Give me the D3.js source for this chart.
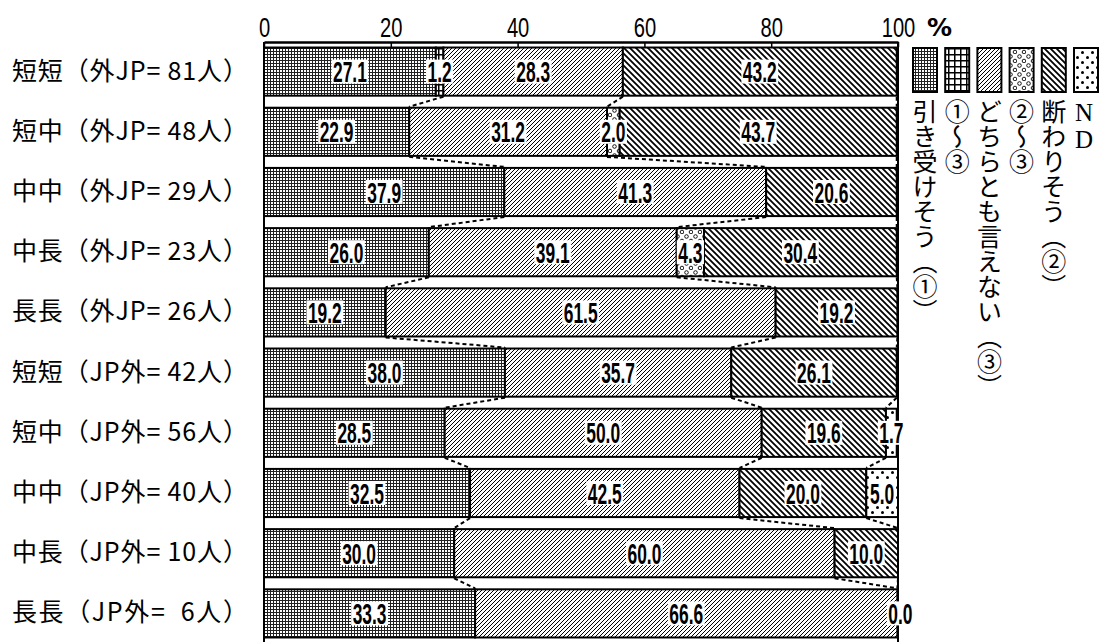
<!DOCTYPE html>
<html>
<head>
<meta charset="utf-8">
<script src="https://cdn.jsdelivr.net/npm/d3@7"></script>
<style>
  body { margin: 0; background: #fff; }
</style>
</head>
<body>
<svg id="chart" width="1099" height="642"></svg>
<script>
// rows of the chart (top to bottom)
const rows = [
  '短短（外JP= 81人）',
  '短中（外JP= 48人）',
  '中中（外JP= 29人）',
  '中長（外JP= 23人）',
  '長長（外JP= 26人）',
  '短短（JP外= 42人）',
  '短中（JP外= 56人）',
  '中中（JP外= 40人）',
  '中長（JP外= 10人）',
  '長長（JP外=  6人）'
];
const seriesNames = ['引き受けそう（①）', '①～③', 'どちらとも言えない（③）', '②～③', '断わりそう（②）', 'ND'];
// values in %, null = no segment
const hikiuke = [27.1, 22.9, 37.9, 26.0, 19.2, 38.0, 28.5, 32.5, 30.0, 33.3];
const kara13 = [1.2, null, null, null, null, null, null, null, null, null];
const dochira = [28.3, 31.2, 41.3, 39.1, 61.5, 35.7, 50.0, 42.5, 60.0, 66.6];
const kara23 = [null, 2.0, null, 4.3, null, null, null, null, null, null];
const kotowari = [43.2, 43.7, 20.6, 30.4, 19.2, 26.1, 19.6, 20.0, 10.0, 0.0];
const nd = [null, null, null, null, null, null, 1.7, 5.0, null, null];
const tickValues = [0, 20, 40, 60, 80, 100];

const series = [hikiuke, kara13, dochira, kara23, kotowari, nd];
const patternIds = ['p-hiki', 'p-k13', 'p-doc', 'p-k23', 'p-kot', 'p-nd'];

const svg = d3.select('#chart');
const defs = svg.append('defs');

// fill patterns
function pattern(id, w, h) {
  return defs.append('pattern').attr('id', id)
    .attr('patternUnits', 'userSpaceOnUse')
    .attr('width', w).attr('height', h);
}
// fine grid
let p = pattern('p-hiki', 3, 3);
p.append('rect').attr('width', 3).attr('height', 3).attr('fill', '#fff');
p.append('path').attr('d', 'M0,0.5H3M0.5,0V3').attr('stroke', '#222').attr('stroke-width', 1);
// coarse grid
p = pattern('p-k13', 6, 6);
p.append('rect').attr('width', 6).attr('height', 6).attr('fill', '#fff');
p.append('path').attr('d', 'M0,0.75H6M0.75,0V6').attr('stroke', '#000').attr('stroke-width', 1.5);
// "/" hatch
p = pattern('p-doc', 4, 4);
p.append('rect').attr('width', 4).attr('height', 4).attr('fill', '#fff');
p.append('path').attr('d', 'M0,4L4,0M-1,1L1,-1M3,5L5,3').attr('stroke', '#000').attr('stroke-width', 1);
// circles
p = pattern('p-k23', 9, 9);
p.append('rect').attr('width', 9).attr('height', 9).attr('fill', '#fff');
p.append('circle').attr('cx', 2.5).attr('cy', 2.5).attr('r', 1.8).attr('fill', 'none').attr('stroke', '#000').attr('stroke-width', 0.9);
p.append('circle').attr('cx', 7).attr('cy', 7).attr('r', 1.8).attr('fill', 'none').attr('stroke', '#000').attr('stroke-width', 0.9);
// "\" hatch
p = pattern('p-kot', 6, 6);
p.append('rect').attr('width', 6).attr('height', 6).attr('fill', '#fff');
p.append('path').attr('d', 'M0,0L6,6M-1,5L1,7M5,-1L7,1').attr('stroke', '#000').attr('stroke-width', 1.8);
// sparse dots
p = pattern('p-nd', 10, 10);
p.append('rect').attr('width', 10).attr('height', 10).attr('fill', '#fff');
p.append('circle').attr('cx', 2.5).attr('cy', 2.5).attr('r', 1.5).attr('fill', '#000');
p.append('circle').attr('cx', 7.5).attr('cy', 7.5).attr('r', 1.5).attr('fill', '#000');

// scales
const x = d3.scaleLinear().domain([0, 100]).range([264, 898]);
const y = d3.scaleBand().domain(rows).range([41.5, 643.5]).paddingInner(0.2).paddingOuter(0.1);

// stacked segments
const stacked = rows.map((r, i) => {
  let cum = 0;
  const segs = series.map((s, k) => {
    const v = s[i];
    const x0 = cum;
    cum += v || 0;
    return { row: r, k: k, v: v, x0: x0, x1: cum };
  });
  return { row: r, segs: segs };
});

// frame lines
svg.append('line').attr('x1', x(0)).attr('x2', x(0)).attr('y1', 42).attr('y2', 650)
  .attr('stroke', '#000').attr('stroke-width', 2);
svg.append('line').attr('x1', x(100)).attr('x2', x(100)).attr('y1', 42).attr('y2', 650)
  .attr('stroke', '#000').attr('stroke-width', 2);

// top axis
const axis = svg.append('g')
  .attr('transform', 'translate(0,42)')
  .call(d3.axisTop(x).tickValues(tickValues).tickSizeInner(-5).tickSizeOuter(0).tickPadding(6));
axis.select('.domain').attr('stroke-width', 2.5);
axis.selectAll('.tick line').attr('stroke-width', 1.5);
axis.selectAll('.tick text')
  .attr('y', -5)
  .attr('font-family', 'Liberation Sans, Arial, sans-serif')
  .attr('font-size', 28)
  .attr('transform', 'scale(0.72,1)'); // narrow digits like the original
svg.append('text').attr('x', 927).attr('y', 36)
  .attr('font-family', 'DejaVu Sans, sans-serif').attr('font-weight', 'bold')
  .attr('font-size', 25).text('%');

// bars
const bars = svg.append('g');
stacked.forEach(st => {
  bars.selectAll(null)
    .data(st.segs.filter(s => s.v !== null && s.v > 0))
    .join('rect')
    .attr('x', s => x(s.x0))
    .attr('y', y(st.row))
    .attr('width', s => x(s.x1) - x(s.x0))
    .attr('height', y.bandwidth())
    .attr('fill', s => `url(#${patternIds[s.k]})`)
    .attr('stroke', '#000')
    .attr('stroke-width', 2);
});

// dotted connectors between neighbouring bars
const connectorAt = [1, 2, 4]; // cumulative ends after these series
const conn = svg.append('g');
for (let i = 0; i < stacked.length - 1; i++) {
  connectorAt.forEach(k => {
    conn.append('line')
      .attr('x1', x(stacked[i].segs[k].x1))
      .attr('y1', y(rows[i]) + y.bandwidth() + 1)
      .attr('x2', x(stacked[i + 1].segs[k].x1))
      .attr('y2', y(rows[i + 1]) - 1)
      .attr('stroke', '#000')
      .attr('stroke-width', 2)
      .attr('stroke-dasharray', '4,3');
  });
}

// value labels
const lab = svg.append('g');
stacked.forEach(st => {
  st.segs.filter(s => s.v !== null).forEach(s => {
    const cx = (x(s.x0) + x(s.x1)) / 2 + (s.v === 0 ? 3 : 0);
    const cy = y(st.row) + y.bandwidth() / 2;
    const g = lab.append('g').attr('transform', `translate(${cx},${cy})`);
    const bg = g.append('rect').attr('fill', '#fff');
    const t = g.append('text')
      .attr('transform', 'scale(0.6,1)')
      .attr('text-anchor', 'middle')
      .attr('y', 10.5)
      .attr('font-family', 'Liberation Sans, Arial, sans-serif')
      .attr('font-weight', 'bold')
      .attr('font-size', 29)
      .text(s.v.toFixed(1));
    const w = t.node().getComputedTextLength() * 0.6;
    bg.attr('x', -w / 2 - 1.5).attr('y', -12).attr('width', w + 3).attr('height', 24);
  });
});

// row labels
svg.append('g').selectAll('text')
  .data(rows)
  .join('text')
  .attr('x', 12)
  .attr('y', r => y(r) + y.bandwidth() / 2 + 8)
  .attr('font-family', 'Noto Sans CJK JP, sans-serif')
  .attr('font-size', 25)
  .attr('textLength', 236)
  .attr('lengthAdjust', 'spacing')
  .style('white-space', 'pre')
  .text(r => r);

// legend
const lg = svg.append('g');
seriesNames.forEach((name, k) => {
  const lx = 913 + k * 32.2;
  lg.append('rect').attr('x', lx).attr('y', 48).attr('width', 24).attr('height', 44)
    .attr('fill', `url(#${patternIds[k]})`).attr('stroke', '#000').attr('stroke-width', 2);
  const isNd = name === 'ND';
  lg.append('text')
    .attr('x', lx + (isNd ? 10 : 12))
    .attr('y', 99)
    .attr('font-size', isNd ? 25 : 25)
    .attr('font-family', isNd ? 'Liberation Serif, serif' : 'Noto Sans CJK JP, sans-serif')
    .style('writing-mode', 'vertical-rl')
    .style('text-orientation', isNd ? 'upright' : 'mixed')
    .text(name);
});
</script>
</body>
</html>
